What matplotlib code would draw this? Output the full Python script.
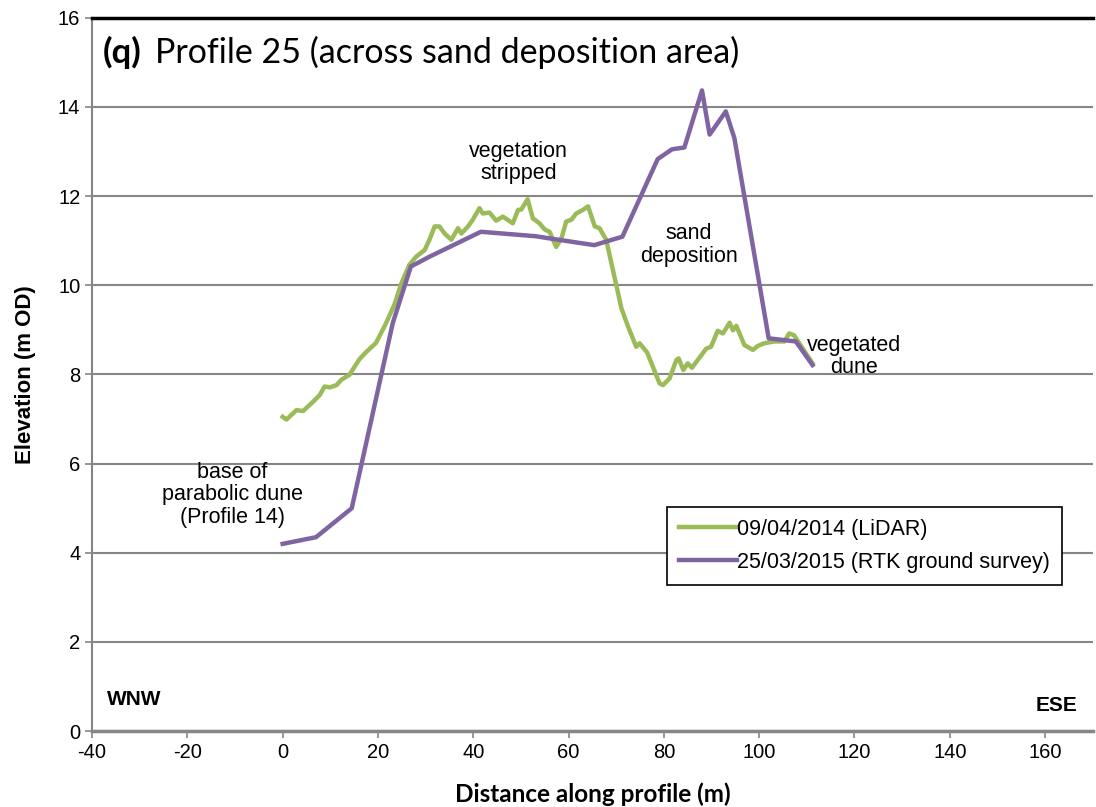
import matplotlib
matplotlib.use('Agg')
import matplotlib.pyplot as plt

plt.rcParams['axes.unicode_minus'] = False

# LiDAR profile (09/04/2014)
lidar_x = [0, 0.8, 2.9, 4.3, 6.4, 7.8, 8.8, 9.9, 11.3, 12.3, 14.0, 16.1, 17.5, 19.6,
           21.7, 23.5, 24.9, 26.6, 28.0, 29.8, 30.8, 31.9, 32.9, 34.0, 35.4, 36.8,
           37.5, 38.9, 39.9, 41.3, 42.0, 43.4, 44.8, 46.2, 48.3, 49.4, 50.1, 51.4,
           52.5, 53.9, 55.0, 56.0, 57.4, 58.5, 59.5, 60.6, 61.6, 63.0, 64.1, 65.5,
           66.5, 67.9, 69.0, 70.4, 71.1, 72.5, 74.2, 74.9, 76.5, 79.1, 79.8, 81.2,
           82.6, 83.1, 84.1, 85.0, 85.9, 88.9, 89.9, 91.3, 92.4, 93.8, 94.5, 95.2,
           96.9, 98.7, 99.7, 101.1, 103.2, 105.3, 106.3, 107.3, 111.2]
lidar_y = [7.05, 6.99, 7.2, 7.18, 7.39, 7.54, 7.73, 7.71, 7.76, 7.88, 7.99, 8.34, 8.5, 8.71,
           9.15, 9.58, 10.04, 10.46, 10.64, 10.79, 11.02, 11.32, 11.32, 11.16, 11.02, 11.28,
           11.16, 11.32, 11.47, 11.73, 11.61, 11.63, 11.45, 11.54, 11.39, 11.69, 11.70, 11.93,
           11.5, 11.39, 11.25, 11.2, 10.86, 11.05, 11.43, 11.47, 11.61, 11.69, 11.77, 11.32,
           11.28, 11.02, 10.49, 9.82, 9.48, 9.07, 8.62, 8.7, 8.49, 7.8, 7.76, 7.91,
           8.32, 8.36, 8.1, 8.25, 8.15, 8.58, 8.62, 8.98, 8.92, 9.16, 8.99, 9.09,
           8.66, 8.55, 8.64, 8.7, 8.74, 8.74, 8.92, 8.88, 8.25]

# RTK ground survey (25/03/2015)
rtk_x = [0, 7, 14.5, 23.1, 26.9, 30.8, 41.6, 53.1, 57.3, 65.4, 71.3, 78.7, 81.7, 84.3,
         88.0, 89.6, 93.0, 94.8, 102.0, 107.7, 111.2]
rtk_y = [4.2, 4.35, 5.0, 9.15, 10.42, 10.64, 11.2, 11.1, 11.03, 10.9, 11.09, 12.83, 13.05,
         13.09, 14.37, 13.38, 13.9, 13.3, 8.81, 8.74, 8.21]

green = '#9BBB59'
purple = '#8064A2'
grey = '#868686'

fig = plt.figure(figsize=(10.96, 8.07), dpi=100)
ax = fig.add_axes([0.084, 0.094, 0.913, 0.884])

ax.plot(lidar_x, lidar_y, color=green, lw=3.2, label='09/04/2014 (LiDAR)', zorder=3)
ax.plot(rtk_x, rtk_y, color=purple, lw=3.2, label='25/03/2015 (RTK ground survey)', zorder=4)

ax.set_xlim(-40, 170)
ax.set_ylim(0, 16)
ax.set_xticks(range(-40, 161, 20))
ax.set_yticks(range(0, 17, 2))
ax.yaxis.grid(True, color=grey, lw=1.5)
ax.set_axisbelow(True)

for s in ['left', 'bottom']:
    ax.spines[s].set_color(grey)
    ax.spines[s].set_linewidth(1.5)
ax.spines['bottom'].set_linewidth(2.5)
ax.spines['right'].set_visible(False)
ax.spines['top'].set_color('black')
ax.spines['top'].set_linewidth(2.5)
ax.tick_params(axis='both', colors=grey, length=5, width=1.2, labelcolor='black',
               labelsize=14.5)
for lab in ax.get_xticklabels() + ax.get_yticklabels():
    lab.set_family('Liberation Sans')

ax.set_ylabel('Elevation (m OD)', fontsize=16, fontweight='bold', family='Liberation Sans',
              labelpad=16)
ax.set_xlabel('Distance along profile (m)', fontsize=17.5, fontweight='bold', family='Lato',
              labelpad=15)

ax.annotate('(q)', xy=(-37.7, 15.23), fontsize=25, fontweight='bold', family='Lato',
            va='center', ha='left')
ax.annotate('Profile 25 (across sand deposition area)', xy=(-26.8, 15.23), fontsize=24.5,
            family='Lato', va='center', ha='left')

ann = dict(fontsize=15.5, family='Liberation Sans', ha='center', va='center', linespacing=1.1)
ax.text(49.5, 12.75, 'vegetation\nstripped', **ann)
ax.text(85.3, 10.9, 'sand\ndeposition', **ann)
ax.text(119.9, 8.4, 'vegetated\ndune', **ann)
ax.text(-10.5, 5.3, 'base of\nparabolic dune\n(Profile 14)', **ann)

ax.text(-36.9, 0.72, 'WNW', fontsize=15, fontweight='bold', family='Liberation Sans',
        ha='left', va='center')
ax.text(166.7, 0.58, 'ESE', fontsize=15, fontweight='bold', family='Liberation Sans',
        ha='right', va='center')

leg = ax.legend(loc='upper left', bbox_to_anchor=(0.575, 0.314), borderaxespad=0,
                frameon=True, fancybox=False, edgecolor='black', framealpha=1,
                prop={'family': 'Liberation Sans', 'size': 15.5}, handlelength=2.7,
                handletextpad=0.0, labelspacing=0.55, borderpad=0.55)
leg.get_frame().set_linewidth(1.2)

fig.savefig('out.png', dpi=100)
